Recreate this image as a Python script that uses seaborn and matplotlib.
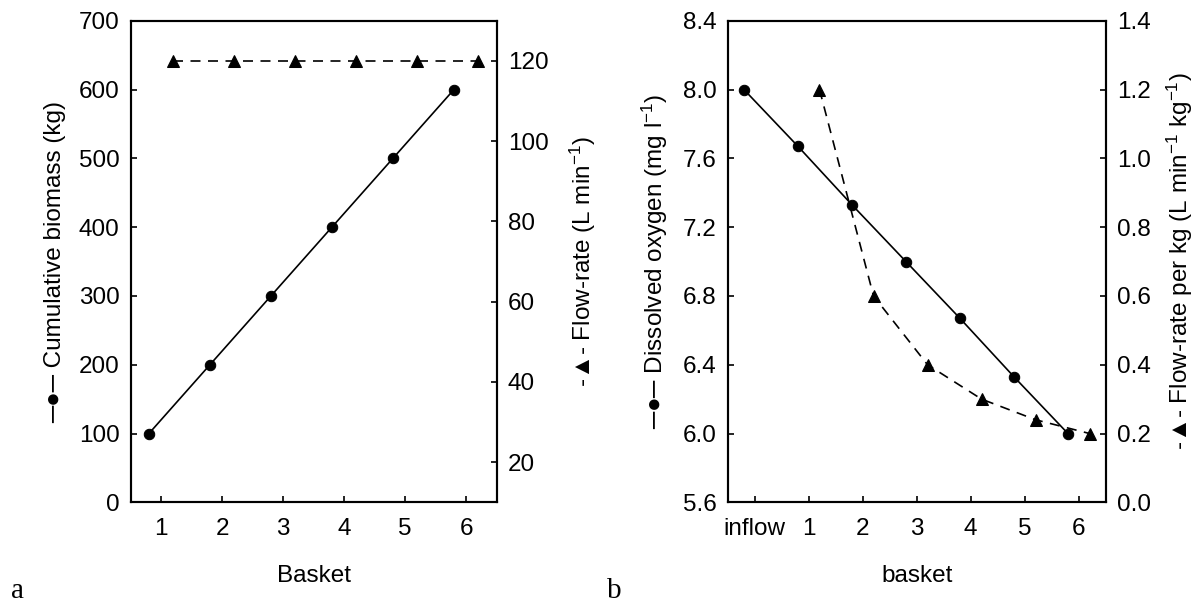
import matplotlib
matplotlib.use("Agg")
import matplotlib.pyplot as plt
import seaborn as sns

# -------------------------------
# Data
# -------------------------------
basket = [1, 2, 3, 4, 5, 6]
biomass = [100, 200, 300, 400, 500, 600]           # kg, cumulative
flow_rate = [120, 120, 120, 120, 120, 120]         # L min-1

do_pos = [0, 1, 2, 3, 4, 5, 6]                      # inflow + baskets
do_labels = ["inflow", "1", "2", "3", "4", "5", "6"]
dissolved_oxygen = [8.0, 7.67, 7.33, 7.0, 6.67, 6.33, 6.0]
flow_per_kg = [1.2, 0.6, 0.4, 0.3, 0.24, 0.2]

shift = 0.2  # circles drawn left of the tick, triangles right of it

# -------------------------------
# Style
# -------------------------------
sns.set_style("ticks")
plt.rcParams["font.family"] = ["Liberation Sans", "DejaVu Sans"]
plt.rcParams["mathtext.fontset"] = "custom"
plt.rcParams["mathtext.rm"] = "Liberation Sans"
plt.rcParams["mathtext.it"] = "Liberation Sans:italic"
plt.rcParams["mathtext.bf"] = "Liberation Sans:bold"
plt.rcParams["mathtext.default"] = "regular"
plt.rcParams["axes.linewidth"] = 1.5
plt.rcParams["xtick.direction"] = "in"
plt.rcParams["ytick.direction"] = "in"
for key in ["text.color", "axes.labelcolor", "xtick.color", "ytick.color",
            "xtick.labelcolor", "ytick.labelcolor", "axes.edgecolor"]:
    plt.rcParams[key] = "black"

FS = 17.5

fig = plt.figure(figsize=(12.02, 6.02), dpi=100)
ax1 = fig.add_axes([0.1087, 0.1656, 0.3045, 0.80])
ax3 = fig.add_axes([0.6054, 0.1656, 0.3145, 0.80])


def style_axis(ax):
    ax.tick_params(axis="both", labelsize=FS, length=4.5, width=1.2,
                   color="black", labelcolor="black")
    ax.tick_params(axis="x", pad=11)
    ax.tick_params(axis="y", pad=8)
    for sp in ax.spines.values():
        sp.set_visible(True)
        sp.set_linewidth(1.5)
        sp.set_color("black")


solid_kw = dict(color="black", marker="o", markersize=7.5, linewidth=1.2,
                markeredgecolor="black", legend=False)
dash_kw = dict(color="black", marker="^", markersize=8.5, linewidth=1.2,
               linestyle=(0, (6, 4.5)), markeredgecolor="black", legend=False)

# -------------------------------
# Panel a
# -------------------------------
sns.lineplot(x=[b - shift for b in basket], y=biomass, ax=ax1, **solid_kw)
ax1.set_xlim(0.5, 6.5)
ax1.set_ylim(0, 700)
ax1.set_xticks(basket)
ax1.set_yticks(range(0, 701, 100))
ax1.set_xlabel("Basket", fontsize=FS, labelpad=18)
ax1.set_ylabel("\u2500\u25CF\u2500 Cumulative biomass (kg)", fontsize=FS, labelpad=9)
style_axis(ax1)

ax2 = ax1.twinx()
sns.lineplot(x=[b + shift for b in basket], y=flow_rate, ax=ax2, **dash_kw)
ax2.set_ylim(10, 130)
ax2.set_yticks(range(20, 121, 20))
ax2.set_ylabel("-\u25B2- Flow-rate (L min$^{-1}$)", fontsize=FS, labelpad=14)
style_axis(ax2)

# -------------------------------
# Panel b
# -------------------------------
sns.lineplot(x=[p - shift for p in do_pos], y=dissolved_oxygen, ax=ax3, **solid_kw)
ax3.set_xlim(-0.5, 6.5)
ax3.set_ylim(5.6, 8.4)
ax3.set_xticks(do_pos)
ax3.set_xticklabels(do_labels)
ax3.set_yticks([5.6 + 0.4 * i for i in range(8)])
ax3.set_yticklabels([f"{5.6 + 0.4 * i:.1f}" for i in range(8)])
ax3.set_xlabel("basket", fontsize=FS, labelpad=18)
ax3.set_ylabel("\u2500\u25CF\u2500 Dissolved oxygen (mg l$^{-1}$)", fontsize=FS, labelpad=9)
style_axis(ax3)

ax4 = ax3.twinx()
sns.lineplot(x=[b + shift for b in basket], y=flow_per_kg, ax=ax4, **dash_kw)
ax4.set_ylim(0, 1.4)
ax4.set_yticks([0.2 * i for i in range(8)])
ax4.set_yticklabels([f"{0.2 * i:.1f}" for i in range(8)])
ax4.set_ylabel("-\u25B2- Flow-rate per kg (L min$^{-1}$ kg$^{-1}$)", fontsize=FS, labelpad=10)
style_axis(ax4)

# panel letters
fig.text(0.009, 0.006, "a", family=["Liberation Serif"], fontsize=21, va="baseline")
fig.text(0.505, 0.006, "b", family=["Liberation Serif"], fontsize=21, va="baseline")

fig.savefig("out.png", dpi=100)
plt.close(fig)
